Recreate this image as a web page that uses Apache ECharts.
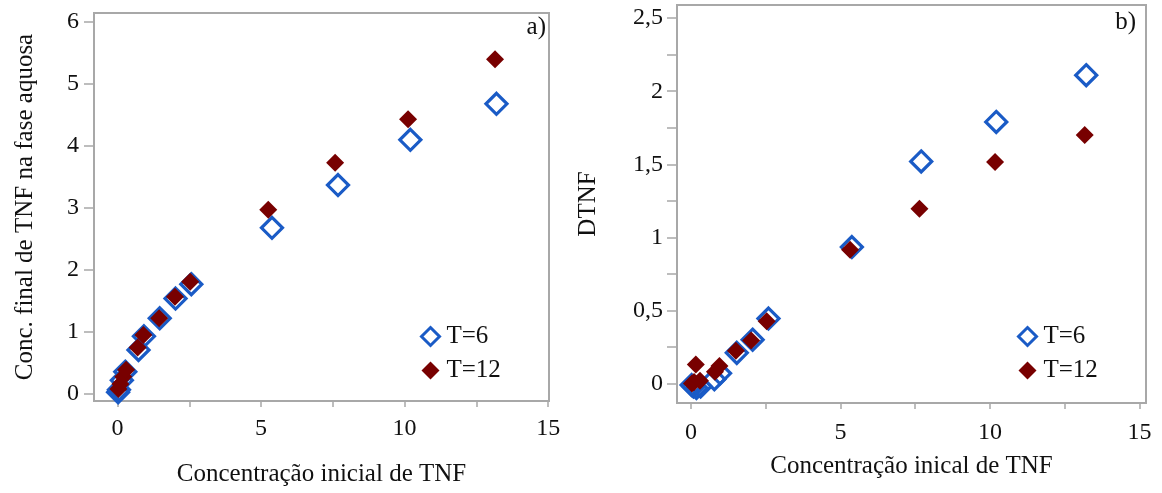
<!DOCTYPE html>
<html><head><meta charset="utf-8">
<script src="https://cdn.jsdelivr.net/npm/echarts@6/dist/echarts.min.js"></script>
<style>html,body{margin:0;padding:0;background:#fff}#c{width:1162px;height:493px}</style>
</head><body><div id="c"></div>
<script>
// Panel a) Conc. final de TNF na fase aquosa
const a6X  = [0.02, 0.05, 0.15, 0.27, 0.73, 0.92, 1.47, 2.02, 2.57, 5.38, 7.68, 10.20, 13.20];
const a6Y  = [0.03, 0.07, 0.22, 0.36, 0.71, 0.93, 1.22, 1.54, 1.77, 2.68, 3.37, 4.10, 4.68];
const a12X = [0.03, 0.10, 0.20, 0.30, 0.70, 0.90, 1.45, 2.00, 2.53, 5.25, 7.58, 10.12, 13.15];
const a12Y = [0.08, 0.16, 0.28, 0.39, 0.75, 0.95, 1.22, 1.57, 1.81, 2.97, 3.73, 4.43, 5.40];
// Panel b) DTNF
const b6X  = [0.02, 0.08, 0.18, 0.32, 0.78, 0.97, 1.53, 2.06, 2.59, 5.38, 7.70, 10.21, 13.22];
const b6Y  = [-0.01, -0.02, -0.03, -0.02, 0.03, 0.07, 0.21, 0.30, 0.445, 0.934, 1.52, 1.79, 2.11];
const b12X = [0.03, 0.10, 0.16, 0.30, 0.80, 0.95, 1.50, 2.01, 2.53, 5.32, 7.64, 10.17, 13.17];
const b12Y = [0.00, 0.01, 0.13, 0.02, 0.08, 0.12, 0.225, 0.295, 0.426, 0.916, 1.196, 1.515, 1.70];

const xTicksLabel = [0, 5, 10, 15];
const xTicksAll = [0, 2.5, 5, 7.5, 10, 12.5, 15];
const aYLabels = [0, 1, 2, 3, 4, 5, 6];
const bYLabels = [0, 0.5, 1, 1.5, 2, 2.5];
const bYTicks = [0, 0.25, 0.5, 0.75, 1, 1.25, 1.5, 1.75, 2, 2.25, 2.5];
const names = ['T=6', 'T=12'];

const FONT = 'Liberation Serif';
const BLUE = '#1a5bc6';
const RED = '#780000';
const FRAME = '#a8a8a8';
const TXT = '#111';

const pair = (xs, ys) => xs.map((x, i) => [x, ys[i]]);
const fmt = v => String(v).replace('.', ',');

function xAxis(gi, min, max, margin, nameGap, name) {
  return {
    type: 'value', gridIndex: gi, min, max,
    name, nameLocation: 'middle', nameGap,
    nameTextStyle: {fontFamily: FONT, fontSize: 25, color: TXT},
    axisLine: {show: false, onZero: false},
    axisTick: {show: true, inside: false, length: 6, customValues: xTicksAll, lineStyle: {color: FRAME, width: 1.5}},
    axisLabel: {customValues: xTicksLabel, margin, fontFamily: FONT, fontSize: 24, color: TXT, formatter: fmt},
    splitLine: {show: false}
  };
}
function yAxis(gi, min, max, labels, ticks, margin, nameGap, name) {
  return {
    type: 'value', gridIndex: gi, min, max,
    name, nameLocation: 'middle', nameGap,
    nameTextStyle: {fontFamily: FONT, fontSize: 25, color: TXT},
    axisLine: {show: false, onZero: false},
    axisTick: {show: true, inside: false, length: 10, customValues: ticks, lineStyle: {color: FRAME, width: 1.5}},
    axisLabel: {customValues: labels, margin, fontFamily: FONT, fontSize: 24, color: TXT, formatter: fmt},
    splitLine: {show: false}
  };
}
function blueSeries(gi, data) {
  return {
    name: names[0], type: 'scatter', xAxisIndex: gi, yAxisIndex: gi, data,
    symbol: 'diamond', symbolSize: 21,
    itemStyle: {color: 'rgba(255,255,255,0)', borderColor: BLUE, borderWidth: 3.2, opacity: 1},
    emphasis: {disabled: true}
  };
}
function redSeries(gi, data) {
  return {
    name: names[1], type: 'scatter', xAxisIndex: gi, yAxisIndex: gi, data,
    symbol: 'diamond', symbolSize: 18,
    itemStyle: {color: RED, opacity: 1},
    emphasis: {disabled: true}
  };
}
function legend(left) {
  return {
    data: [
      {name: names[0], itemStyle: {borderWidth: 3}},
      {name: names[1]}
    ],
    orient: 'vertical', left, top: 319,
    itemWidth: 18, itemHeight: 18, itemGap: 9,
    textStyle: {fontFamily: FONT, fontSize: 25, color: TXT, padding: [0, 0, 0, 2]},
    selectedMode: false
  };
}

const chart = echarts.init(document.getElementById('c'), null, {renderer: 'canvas'});
chart.setOption({
  animation: false,
  backgroundColor: '#fff',
  grid: [
    {left: 94, top: 13, width: 455, height: 388, show: true, borderColor: FRAME, borderWidth: 2, backgroundColor: 'transparent'},
    {left: 677, top: 5, width: 469, height: 398, show: true, borderColor: FRAME, borderWidth: 2, backgroundColor: 'transparent'}
  ],
  xAxis: [
    xAxis(0, -0.82, 15.03, 16, 61, 'Concentração inicial de TNF'),
    xAxis(1, -0.47, 15.22, 18, 51, 'Concentração inical de TNF')
  ],
  yAxis: [
    yAxis(0, -0.113, 6.145, aYLabels, aYLabels, 15, 56, 'Conc. final de TNF na fase aquosa'),
    yAxis(1, -0.133, 2.59, bYLabels, bYTicks, 14, 76, 'DTNF')
  ],
  legend: [legend(415), legend(1012)],
  graphic: [
    {type: 'text', right: 1162 - 546, top: 15, style: {text: 'a)', font: '25px "Liberation Serif"', fill: TXT}},
    {type: 'text', right: 1162 - 1136, top: 10, style: {text: 'b)', font: '25px "Liberation Serif"', fill: TXT}}
  ],
  series: [
    blueSeries(0, pair(a6X, a6Y)),
    redSeries(0, pair(a12X, a12Y)),
    blueSeries(1, pair(b6X, b6Y)),
    redSeries(1, pair(b12X, b12Y))
  ]
});
</script></body></html>
